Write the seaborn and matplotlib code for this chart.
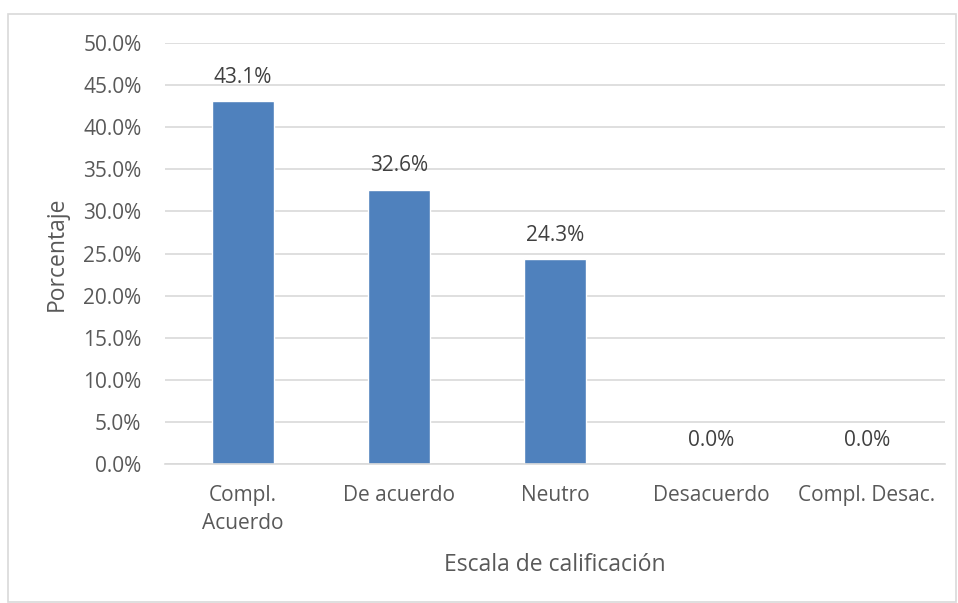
import matplotlib
matplotlib.use("Agg")
import matplotlib.pyplot as plt
import seaborn as sns
import pandas as pd
from matplotlib.patches import Rectangle

categories = ["Compl.\nAcuerdo", "De acuerdo", "Neutro", "Desacuerdo", "Compl. Desac."]
values = [43.1, 32.6, 24.3, 0.0, 0.0]
yticks = [0, 5, 10, 15, 20, 25, 30, 35, 40, 45, 50]

sns.set_theme(style="white")
plt.rcParams['font.family'] = ['Open Sans', 'DejaVu Sans']
txt = "#595959"

fig = plt.figure(figsize=(9.58, 6.03), dpi=100)
ax = fig.add_axes([165/958, 1-464/603, (945-165)/958, (464-43)/603])

df = pd.DataFrame({"cat": categories, "val": values})
sns.barplot(data=df, x="cat", y="val", color="#4F81BD", width=0.4, ax=ax, saturation=1)

ax.set_ylim(0, 50)
ax.set_xlim(-0.5, 4.5)
ax.set_yticks(yticks)
ax.set_yticklabels([f"{v:.1f}%" for v in yticks], fontsize=15, color=txt)
ax.tick_params(axis='x', labelsize=15, labelcolor=txt, length=0, pad=15)
ax.tick_params(axis='y', length=0, pad=17)
for lbl in ax.get_xticklabels():
    lbl.set_linespacing(1.45)
ax.grid(axis='y', color="#D9D9D9", linewidth=1.2)
ax.set_axisbelow(True)
for s in ["top", "right", "left"]:
    ax.spines[s].set_visible(False)
ax.spines["bottom"].set_color("#D9D9D9")
ax.spines["bottom"].set_linewidth(1.2)

for i, v in enumerate(values):
    ax.text(i, v + 2.8, f"{v:.1f}%", ha="center", va="center", fontsize=15, color="#404040")

ax.set_xlabel("Escala de calificación", fontsize=16.5, color=txt, labelpad=14)
ax.set_ylabel("Porcentaje", fontsize=16.5, color=txt, labelpad=10)

fig.patches.append(Rectangle((8/958, 0.002), 948/958, 1-14/603-0.002, transform=fig.transFigure,
                             fill=False, edgecolor="#D9D9D9", linewidth=1.2))

fig.savefig("out.png", dpi=100)
